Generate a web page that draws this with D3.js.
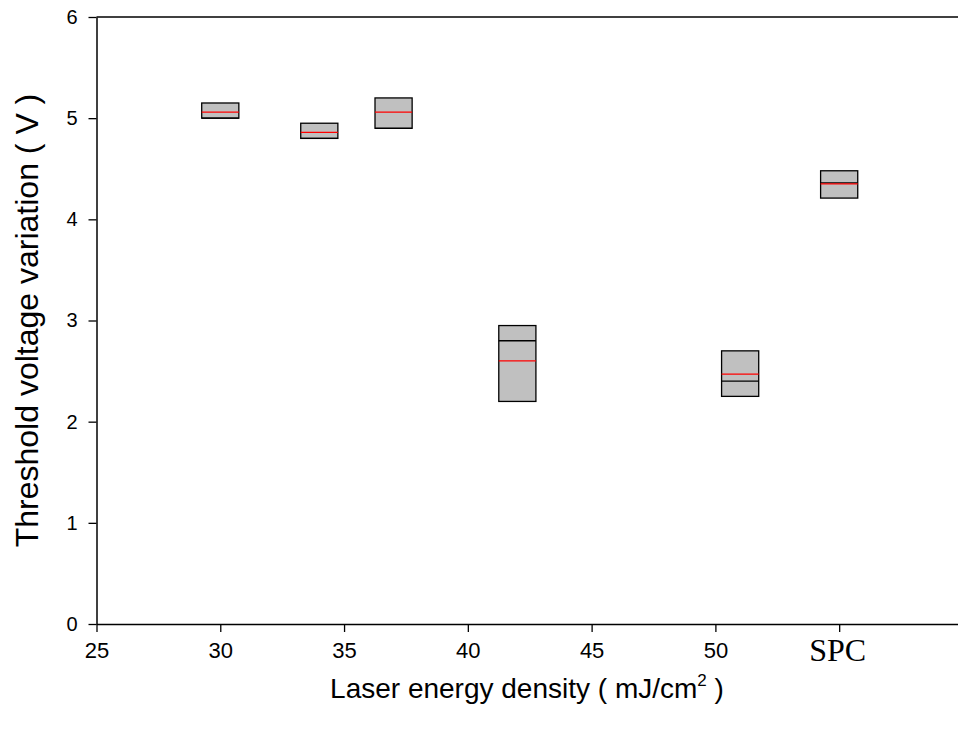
<!DOCTYPE html>
<html>
<head>
<meta charset="utf-8">
<script src="https://cdn.jsdelivr.net/npm/d3@7"></script>
<style>
  body { margin: 0; background: #fff; }
  svg { display: block; }
  .xaxis text { font-family: 'Liberation Sans', Arial, sans-serif; font-size: 22px; }
  .xaxis text.spc { font-family: 'Liberation Serif', 'Times New Roman', serif; font-size: 32px; }
  .yaxis text { font-family: 'Liberation Sans', Arial, sans-serif; font-size: 20px; }
</style>
</head>
<body>
<svg id="chart"></svg>
<script>
// box data
const categories = [30, 34, 37, 42, 51, 55];
const q1Vals = [5.0, 4.8, 4.9, 2.2, 2.25, 4.21];
const q3Vals = [5.15, 4.95, 5.2, 2.95, 2.7, 4.48];
const medianVals = [5.0, 4.8, 4.9, 2.8, 2.4, 4.36];
const meanVals = [5.06, 4.86, 5.06, 2.6, 2.47, 4.35];

const xTicks = [25, 30, 35, 40, 45, 50, 55];
const xTickLabels = ["25", "30", "35", "40", "45", "50", "SPC"];
const yTicks = [0, 1, 2, 3, 4, 5, 6];

const width = 958, height = 731;
const boxWidth = 1.5; // in x units
const sans = "'Liberation Sans', Arial, sans-serif";

const svg = d3.select("#chart")
  .attr("width", width)
  .attr("height", height);

const x = d3.scaleLinear().domain([25, 59.8]).range([96.5, 958]);
const y = d3.scaleLinear().domain([0, 6]).range([624, 17]);

const data = categories.map((c, i) => ({
  x: c, q1: q1Vals[i], q3: q3Vals[i], med: medianVals[i], mean: meanVals[i]
}));

// boxes
const g = svg.append("g");
g.selectAll("rect.box")
  .data(data)
  .enter()
  .append("rect")
  .attr("class", "box")
  .attr("x", d => x(d.x - boxWidth / 2))
  .attr("width", d => x(d.x + boxWidth / 2) - x(d.x - boxWidth / 2))
  .attr("y", d => y(d.q3))
  .attr("height", d => y(d.q1) - y(d.q3))
  .attr("fill", "#c0c0c0")
  .attr("stroke", "#000")
  .attr("stroke-width", 1.3);

g.selectAll("line.med")
  .data(data)
  .enter()
  .append("line")
  .attr("x1", d => x(d.x - boxWidth / 2))
  .attr("x2", d => x(d.x + boxWidth / 2))
  .attr("y1", d => y(d.med))
  .attr("y2", d => y(d.med))
  .attr("stroke", "#000")
  .attr("stroke-width", 1.3);

g.selectAll("line.mean")
  .data(data)
  .enter()
  .append("line")
  .attr("x1", d => x(d.x - boxWidth / 2))
  .attr("x2", d => x(d.x + boxWidth / 2))
  .attr("y1", d => y(d.mean))
  .attr("y2", d => y(d.mean))
  .attr("stroke", "#ff0000")
  .attr("stroke-width", 1.3);

// axes
const xAxis = d3.axisBottom(x)
  .tickValues(xTicks)
  .tickFormat((d, i) => xTickLabels[i])
  .tickSize(8)
  .tickSizeOuter(0);

const xg = svg.append("g")
  .attr("class", "xaxis")
  .attr("transform", `translate(0,${y(0)})`)
  .call(xAxis)
  .attr("font-size", 22)
  .attr("font-family", sans);

xg.select(".domain").attr("stroke-width", 1.5);
xg.selectAll(".tick line").attr("stroke-width", 1.3);
xg.selectAll(".tick text")
  .attr("y", 34)
  .attr("dy", 0)
  .attr("fill", "#000");
xg.selectAll(".tick text")
  .filter(d => d === 55)
  .attr("class", "spc")
  .attr("y", 37)
  .attr("x", -2);

const yAxis = d3.axisLeft(y)
  .tickValues(yTicks)
  .tickFormat(d3.format("d"))
  .tickSize(8)
  .tickSizeOuter(0);

const yg = svg.append("g")
  .attr("class", "yaxis")
  .attr("transform", `translate(${x(25)},0)`)
  .call(yAxis)
  .attr("font-size", 20)
  .attr("font-family", sans);

yg.select(".domain").attr("stroke-width", 1.5);
yg.selectAll(".tick line").attr("stroke-width", 1.3);
yg.selectAll(".tick text")
  .attr("x", -19)
  .attr("fill", "#000");

// top frame line
svg.append("line")
  .attr("x1", x(25))
  .attr("x2", x(59.8))
  .attr("y1", y(6))
  .attr("y2", y(6))
  .attr("stroke", "#000")
  .attr("stroke-width", 1.5);

// axis titles
const xTitle = svg.append("text")
  .attr("x", 527)
  .attr("y", 698)
  .attr("text-anchor", "middle")
  .style("font-family", sans)
  .style("font-size", "28px")
  .attr("fill", "#000");
xTitle.append("tspan").text("Laser energy density ( mJ/cm");
xTitle.append("tspan").style("font-size", "17px").attr("dy", -12).text("2");
xTitle.append("tspan").attr("dy", 12).text(" )");

svg.append("text")
  .attr("transform", `translate(38,${y(3)}) rotate(-90)`)
  .attr("text-anchor", "middle")
  .style("font-family", sans)
  .style("font-size", "32px")
  .attr("fill", "#000")
  .text("Threshold voltage variation ( V )");
</script>
</body>
</html>
